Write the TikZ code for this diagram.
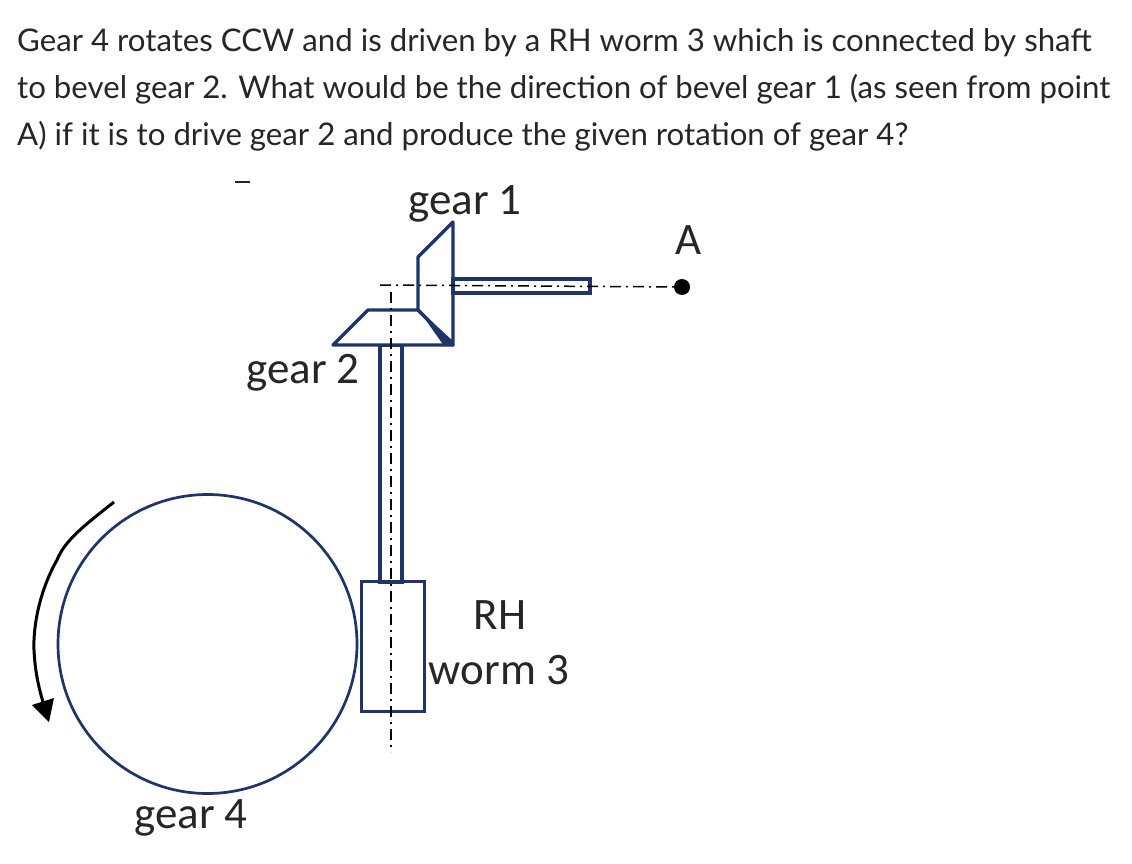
\documentclass[tikz,border=0pt]{standalone}
\usepackage{fontspec}
\setmainfont{Lato}
\newfontfamily\labelfont{Carlito}
\definecolor{gearblue}{HTML}{1F3468}
\tikzset{
  part/.style={draw=gearblue, line width=3.3pt, fill=white},
  axis/.style={draw=black, line width=1.5pt, dash pattern=on 11pt off 5pt on 2pt off 5pt},
  question/.style={anchor=base west, inner sep=0pt, font=\fontsize{31.2}{36}\selectfont, text=black!85},
  gearlabel/.style={anchor=base, inner sep=0pt, font=\labelfont\fontsize{45}{50}\selectfont, text=black!85}
}

\begin{document}
\begin{tikzpicture}[x=1pt, y=-1pt]
      \useasboundingbox (0, 0) rectangle (1132, 864);

      \node [question] (line1) at (17, 52) {Gear 4 rotates CCW and is driven by a RH worm 3 which is connected by shaft};
      \node [question] (line2) at (17, 99) {to bevel gear 2. What would be the direction of bevel gear 1 (as seen from point};
      \node [question] (line3) at (17, 146) {A) if it is to drive gear 2 and produce the given rotation of gear 4?};

      \draw [black!85, line width=2.5pt] (235, 182) -- (250, 182);

      % gear 4 and worm
      \node [part, circle, minimum size=299pt, inner sep=0pt, line width=2.7pt] (gear4) at (207.5, 644) {};
      \draw [part] (380, 345) rectangle (402, 582);
      \node [part, minimum width=63pt, minimum height=130pt, inner sep=0pt, fill=none, line width=3pt] (worm) at (392.5, 646) {};

      % bevel gears
      \draw [part, line join=round] (453, 345) -- (333, 345) -- (368, 310) -- (418, 310) -- cycle;
      \draw [part, fill=none, line join=round] (453, 345) -- (453, 222) -- (418, 257) -- (418, 310) -- cycle;
      \fill [gearblue] (418, 309) -- (453, 341) -- (453, 346) -- (444, 346) -- cycle;
      \draw [part] (453, 279) rectangle (590, 293);

      % center lines
      \node [circle, fill=black, inner sep=0pt, minimum size=16pt] (pointA) at (682, 287) {};
      \coordinate (axisleft) at (380, 285);
      \coordinate (axistop) at (391, 292);
      \coordinate (axisbottom) at (391, 752);
      \draw [axis] (axisleft) -- (pointA);
      \draw [axis] (axistop) -- (axisbottom);

      % rotation of gear 4
      \coordinate (arrowstart) at (114, 502);
      \coordinate (arrowend) at (49, 722);
      \draw [black, line width=3pt] (arrowstart) .. controls (85, 525) and (65, 540) .. (57, 560)
        .. controls (40, 590) and (33, 625) .. (34, 650)
        .. controls (35, 670) and (38, 685) .. (43, 702);
      \fill (arrowend) -- (32, 705) -- (54, 698) -- cycle;

      \node [gearlabel] (gear1) at (465, 214) {gear 1};
      \node [gearlabel] (gear2) at (303, 383) {gear 2};
      \node [gearlabel] (gear4label) at (191, 828) {gear 4};
      \node [gearlabel] (labelA) at (689, 254) {A};
      \node [gearlabel] (rh) at (500, 629) {RH};
      \node [gearlabel] (worm3) at (499, 684) {worm 3};
    \end{tikzpicture}
\end{document}
